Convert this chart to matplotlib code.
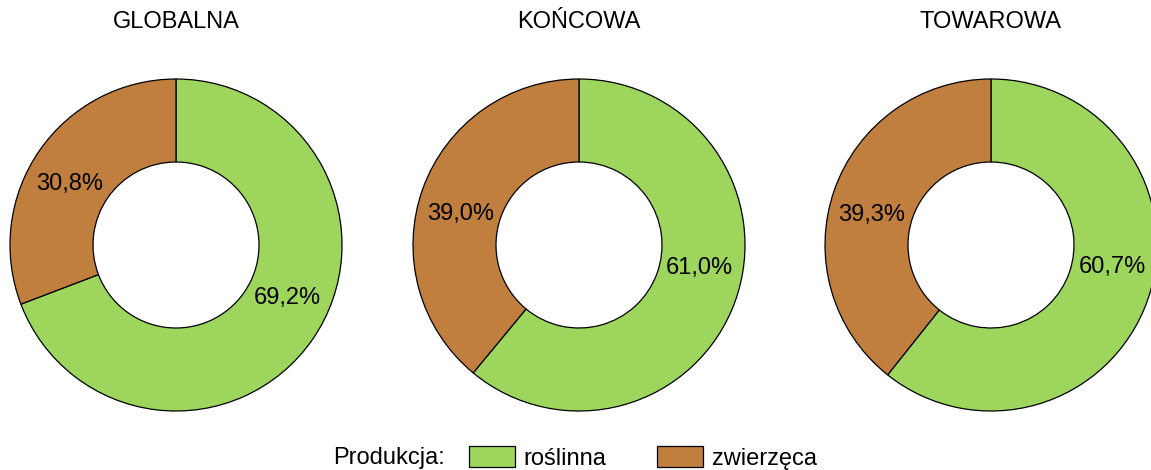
import numpy as np
import matplotlib.pyplot as plt
from matplotlib.patches import Patch

plt.rcParams['font.family'] = ['Liberation Sans', 'DejaVu Sans']

# dane: udział produkcji roślinnej i zwierzęcej (%)
titles = ['GLOBALNA', 'KOŃCOWA', 'TOWAROWA']
roslinna = [69.2, 61.0, 60.7]
zwierzeca = [30.8, 39.0, 39.3]
series_labels = ['roślinna', 'zwierzęca']
colors = ['#9DD55D', '#C07F3F']

W, H = 1151, 470
fig = plt.figure(figsize=(W / 100, H / 100), dpi=100)

centers_x = [176, 579, 991]
cy = 225
r = 166
fs = 17
label_shift = [9, 5]   # przesunięcie etykiet jak w Excelu (stopnie)

for cx, title, g, b in zip(centers_x, titles, roslinna, zwierzeca):
    ax = fig.add_axes([(cx - r) / W, (cy - r) / H, 2 * r / W, 2 * r / H])
    vals = [g, b]
    ax.pie(vals, colors=colors, startangle=90, counterclock=False, radius=1,
           wedgeprops=dict(width=0.5, edgecolor='black', linewidth=0.9))
    cum = 0
    for v, shift in zip(vals, label_shift):
        mid = 90 - (cum + v / 2) * 3.6 + shift
        cum += v
        t = np.deg2rad(mid)
        ax.text(0.74 * np.cos(t), 0.74 * np.sin(t), f'{v:.1f}%'.replace('.', ','),
                ha='center', va='center', fontsize=fs)
    ax.set_xlim(-1, 1)
    ax.set_ylim(-1, 1)
    ax.set_aspect('equal')
    ax.axis('off')
    fig.text(cx / W, 1 - 22 / H, title, ha='center', va='center', fontsize=fs)

fig.text(333 / W, 12 / H, 'Produkcja:', ha='left', va='center', fontsize=fs)
handles = [Patch(facecolor=c, edgecolor='black', linewidth=0.9) for c in colors]
fig.legend(handles, series_labels, loc='center', bbox_to_anchor=(643 / W, 12 / H),
           ncol=2, frameon=False, fontsize=fs, handlelength=1.95, handleheight=0.95,
           handletextpad=0.38, columnspacing=2.15, borderpad=0, borderaxespad=0)

fig.savefig('out.png', dpi=100)
